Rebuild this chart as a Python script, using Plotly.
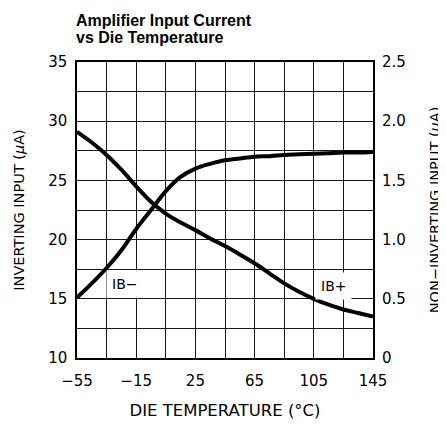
import plotly.graph_objects as go

# ---- data ----
temps = [-55, -45, -35, -25, -15, -5, 5, 15, 25, 35, 45, 55, 65, 75, 85, 95, 105, 115, 125, 135, 145]
ib_minus_uA = [15.1, 16.3, 17.6, 19.1, 20.9, 22.5, 24.1, 25.3, 26.0, 26.4, 26.7, 26.85, 27.0,
               27.05, 27.15, 27.2, 27.25, 27.3, 27.35, 27.35, 27.4]
ib_plus_uA = [1.91, 1.82, 1.715, 1.59, 1.45, 1.32, 1.22, 1.145, 1.08, 1.01, 0.945, 0.875, 0.80,
              0.715, 0.63, 0.56, 0.50, 0.45, 0.41, 0.38, 0.35]

x_range = [-55, 145]
y_left_range = [10, 35]
y_right_range = [0, 2.5]
y_right_ticks = [0, 0.5, 1.0, 1.5, 2.0, 2.5]
y_right_text = ["0", "0.5", "1.0", "1.5", "2.0", "2.5"]

label_minus = ("IB\u2212", -23, 16.25)
label_plus = ("IB+", 118, 16.1)

title_lines = ["Amplifier Input Current", "vs Die Temperature"]

FONT = "DejaVu Sans"
BODY = 8  # default page margin of the html body
W, H = 446 - BODY, 424 - BODY
ML, MR, MT, MB = 77 - BODY, 73, 62 - BODY, 66

fig = go.Figure()
fig.add_trace(go.Scatter(x=temps, y=ib_minus_uA, mode="lines", line=dict(color="black", width=4, shape="spline"),
                         name="IB-", yaxis="y", showlegend=False, hoverinfo="skip"))
fig.add_trace(go.Scatter(x=temps, y=ib_plus_uA, mode="lines", line=dict(color="black", width=4, shape="spline"),
                         name="IB+", yaxis="y2", showlegend=False, hoverinfo="skip"))

grid_color = "#1a1a1a"
fig.update_layout(
    width=W, height=H,
    margin=dict(l=ML, r=MR, t=MT, b=MB, pad=0),
    paper_bgcolor="white", plot_bgcolor="white",
    font=dict(family=FONT, color="black", size=14),
    xaxis=dict(
        range=x_range, tick0=-55, dtick=40, showgrid=True, gridcolor=grid_color, gridwidth=1,
        minor=dict(tick0=-55, dtick=20, showgrid=True, gridcolor=grid_color, gridwidth=1),
        zeroline=False, showline=True, linecolor="black", linewidth=1.5, mirror=True,
        ticks="", ticklabelstandoff=8, tickfont=dict(size=15, family=FONT),
        title=dict(text="DIE TEMPERATURE (\u00b0C)", font=dict(size=16.5, family=FONT), standoff=16),
        automargin=False, fixedrange=True,
    ),
    yaxis=dict(
        range=y_left_range, tick0=10, dtick=5, showgrid=True, gridcolor=grid_color, gridwidth=1,
        minor=dict(tick0=10, dtick=2.5, showgrid=True, gridcolor=grid_color, gridwidth=1),
        zeroline=False, showline=True, linecolor="black", linewidth=1.5, mirror=True,
        ticks="", ticklabelstandoff=5, tickfont=dict(size=15, family=FONT),
        title=dict(text="INVERTING INPUT (<i>\u03bc</i>A)", font=dict(size=14.5, family=FONT), standoff=20),
        automargin=False, fixedrange=True,
    ),
    yaxis2=dict(
        range=y_right_range, overlaying="y", side="right", tickvals=y_right_ticks, ticktext=y_right_text,
        showgrid=False, zeroline=False, showline=False, ticks="", ticklabelstandoff=8,
        tickfont=dict(size=15, family=FONT),
        title=dict(text="NON\u2212INVERTING INPUT (<i>\u03bc</i>A)", font=dict(size=14.5, family=FONT), standoff=24),
        automargin=False, fixedrange=True,
    ),
)

for txt, xv, yv in (label_minus, label_plus):
    fig.add_annotation(x=xv, y=yv, xref="x", yref="y", text=txt, showarrow=False,
                       font=dict(size=14, family=FONT, color="black"),
                       bgcolor="white", borderpad=5)

plot_h = H - MT - MB
plot_w = W - ML - MR
for i, line in enumerate(title_lines):
    cy = [20.5, 37.0][i] - BODY
    fig.add_annotation(x=(74 - BODY - ML) / plot_w, y=(H - MB - cy) / plot_h, xref="paper", yref="paper",
                       xanchor="left", yanchor="middle", text="<b>" + line + "</b>", showarrow=False,
                       font=dict(size=16, family="Liberation Sans", color="black"))

fig.write_html("out.html")
